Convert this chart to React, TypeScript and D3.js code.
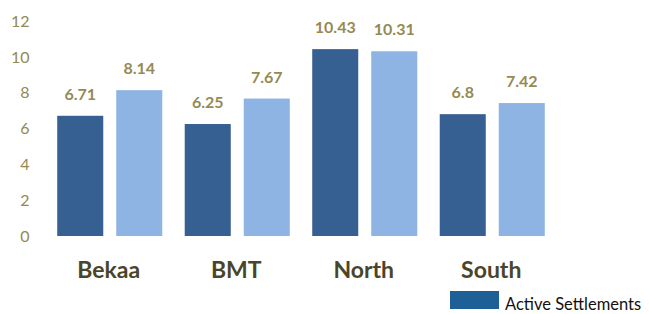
import React from "react";
import * as d3 from "d3";

const categories = ["Bekaa", "BMT", "North", "South"];
const seriesNames = ["Series A", "Series B"];
const seriesA = [6.71, 6.25, 10.43, 6.8];
const seriesB = [8.14, 7.67, 10.31, 7.42];
const valueLabels = [["6.71", "6.25", "10.43", "6.8"], ["8.14", "7.67", "10.31", "7.42"]];
const yTicks = [0, 2, 4, 6, 8, 10, 12];
const legendLabel = "Active Settlements";

const W = 649;
const H = 314;
const colors = ["#376092", "#8eb4e3"];
const font = "Lato, 'Open Sans', sans-serif";

export default function App() {
  const y = d3.scaleLinear().domain([0, 12]).range([236, 21]);
  const x = d3.scaleBand().domain(categories).range([46, 556]).paddingInner(0.176).paddingOuter(0.088);
  const xi = d3.scaleBand().domain(seriesNames).range([0, x.bandwidth()]).paddingInner(0.22);
  const series = [seriesA, seriesB];
  return (
    <svg width={W} height={H} style={{ position: "absolute", left: 0, top: 0, display: "block" }} fontFamily={font}>
      <rect width={W} height={H} fill="#ffffff" />
      {yTicks.map((t) => (
        <text key={t} x={29.5} y={y(t)} dy="0.36em" textAnchor="end" fontSize={16} fill="#938953">
          {t}
        </text>
      ))}
      {series.map((vals, si) =>
        vals.map((v, ci) => {
          const bx = (x(categories[ci]) as number) + (xi(seriesNames[si]) as number);
          return (
            <g key={`${si}-${ci}`}>
              <rect x={bx} y={y(v)} width={xi.bandwidth()} height={y(0) - y(v)} fill={colors[si]} />
              <text x={bx + xi.bandwidth() / 2} y={y(v) - 16} textAnchor="middle" fontSize={16} fontWeight="bold" fill="#948a54">
                {valueLabels[si][ci]}
              </text>
            </g>
          );
        })
      )}
      {categories.map((c) => (
        <text key={c} x={(x(c) as number) + x.bandwidth() / 2 - 1} y={278} textAnchor="middle" fontSize={23} fontWeight="bold" fill="#4a452a">
          {c}
        </text>
      ))}
      <rect x={450} y={291} width={49} height={18} fill="#1f5f97" />
      <text x={505} y={310} fontSize={16.5} fill="#111111">
        {legendLabel}
      </text>
    </svg>
  );
}
